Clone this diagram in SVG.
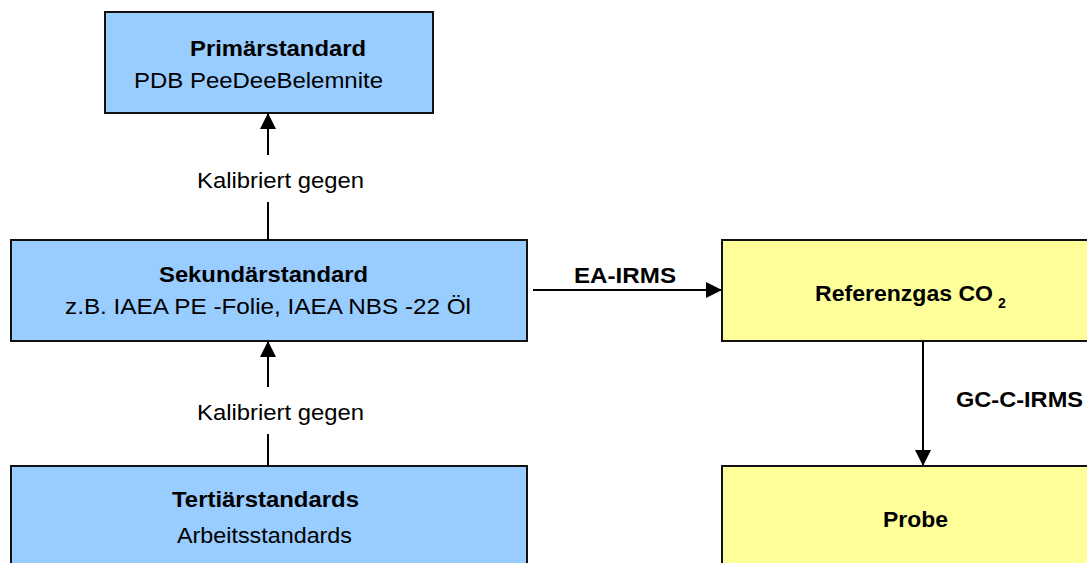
<svg xmlns="http://www.w3.org/2000/svg" width="1087" height="563" viewBox="0 0 1087 563">
<style>
.blue{fill:#99ccff;stroke:#111;stroke-width:2}
.yel{fill:#ffff99;stroke:#111;stroke-width:2}
text{font-family:"Liberation Sans",Arial,sans-serif;fill:#000;font-size:22px}
.b{font-weight:bold}
.ln{stroke:#000;stroke-width:2;fill:none}
</style>
<defs>
<marker id="ah" viewBox="0 0 16 16" refX="16" refY="8" markerWidth="16" markerHeight="16" markerUnits="userSpaceOnUse" orient="auto">
<path d="M0,0 L16,8 L0,16 Z" fill="#000"/>
</marker>
</defs>
<rect width="1087" height="563" fill="#fff"/>
<g id="primaer">
<rect class="blue" x="105" y="12" width="328" height="101"/>
<text class="b" x="190" y="56" textLength="176" lengthAdjust="spacingAndGlyphs">Primärstandard</text>
<text x="134" y="88" textLength="249" lengthAdjust="spacingAndGlyphs">PDB PeeDeeBelemnite</text>
</g>
<g id="sekundaer">
<rect class="blue" x="11" y="240" width="516" height="101"/>
<text class="b" x="159" y="282" textLength="209" lengthAdjust="spacingAndGlyphs">Sekundärstandard</text>
<text x="65" y="314" textLength="406" lengthAdjust="spacingAndGlyphs">z.B. IAEA PE -Folie, IAEA NBS -22 Öl</text>
</g>
<g id="tertiaer">
<rect class="blue" x="11" y="466" width="516" height="110"/>
<text class="b" x="172" y="507" textLength="187" lengthAdjust="spacingAndGlyphs">Tertiärstandards</text>
<text x="177" y="543" textLength="175" lengthAdjust="spacingAndGlyphs">Arbeitsstandards</text>
</g>
<g id="referenzgas">
<rect class="yel" x="722" y="240" width="380" height="101"/>
<text class="b" x="815" y="301" textLength="178" lengthAdjust="spacingAndGlyphs">Referenzgas CO</text>
<text class="b" x="998" y="308" style="font-size:14px">2</text>
</g>
<g id="probe">
<rect class="yel" x="722" y="466" width="380" height="110"/>
<text class="b" x="883" y="527" textLength="65" lengthAdjust="spacingAndGlyphs">Probe</text>
</g>
<g id="connectors">
<line class="ln" x1="268" y1="155" x2="268" y2="113" marker-end="url(#ah)"/>
<line class="ln" x1="268" y1="240" x2="268" y2="202"/>
<text x="197" y="188" textLength="167" lengthAdjust="spacingAndGlyphs">Kalibriert gegen</text>
<line class="ln" x1="268" y1="387" x2="268" y2="341" marker-end="url(#ah)"/>
<line class="ln" x1="268" y1="466" x2="268" y2="434"/>
<text x="197" y="420" textLength="167" lengthAdjust="spacingAndGlyphs">Kalibriert gegen</text>
<line class="ln" x1="533" y1="290" x2="722" y2="290" marker-end="url(#ah)"/>
<text class="b" x="574" y="283" textLength="102" lengthAdjust="spacingAndGlyphs">EA-IRMS</text>
<line class="ln" x1="923" y1="341" x2="923" y2="466" marker-end="url(#ah)"/>
<text class="b" x="956" y="407" textLength="127" lengthAdjust="spacingAndGlyphs">GC-C-IRMS</text>
</g>
</svg>
